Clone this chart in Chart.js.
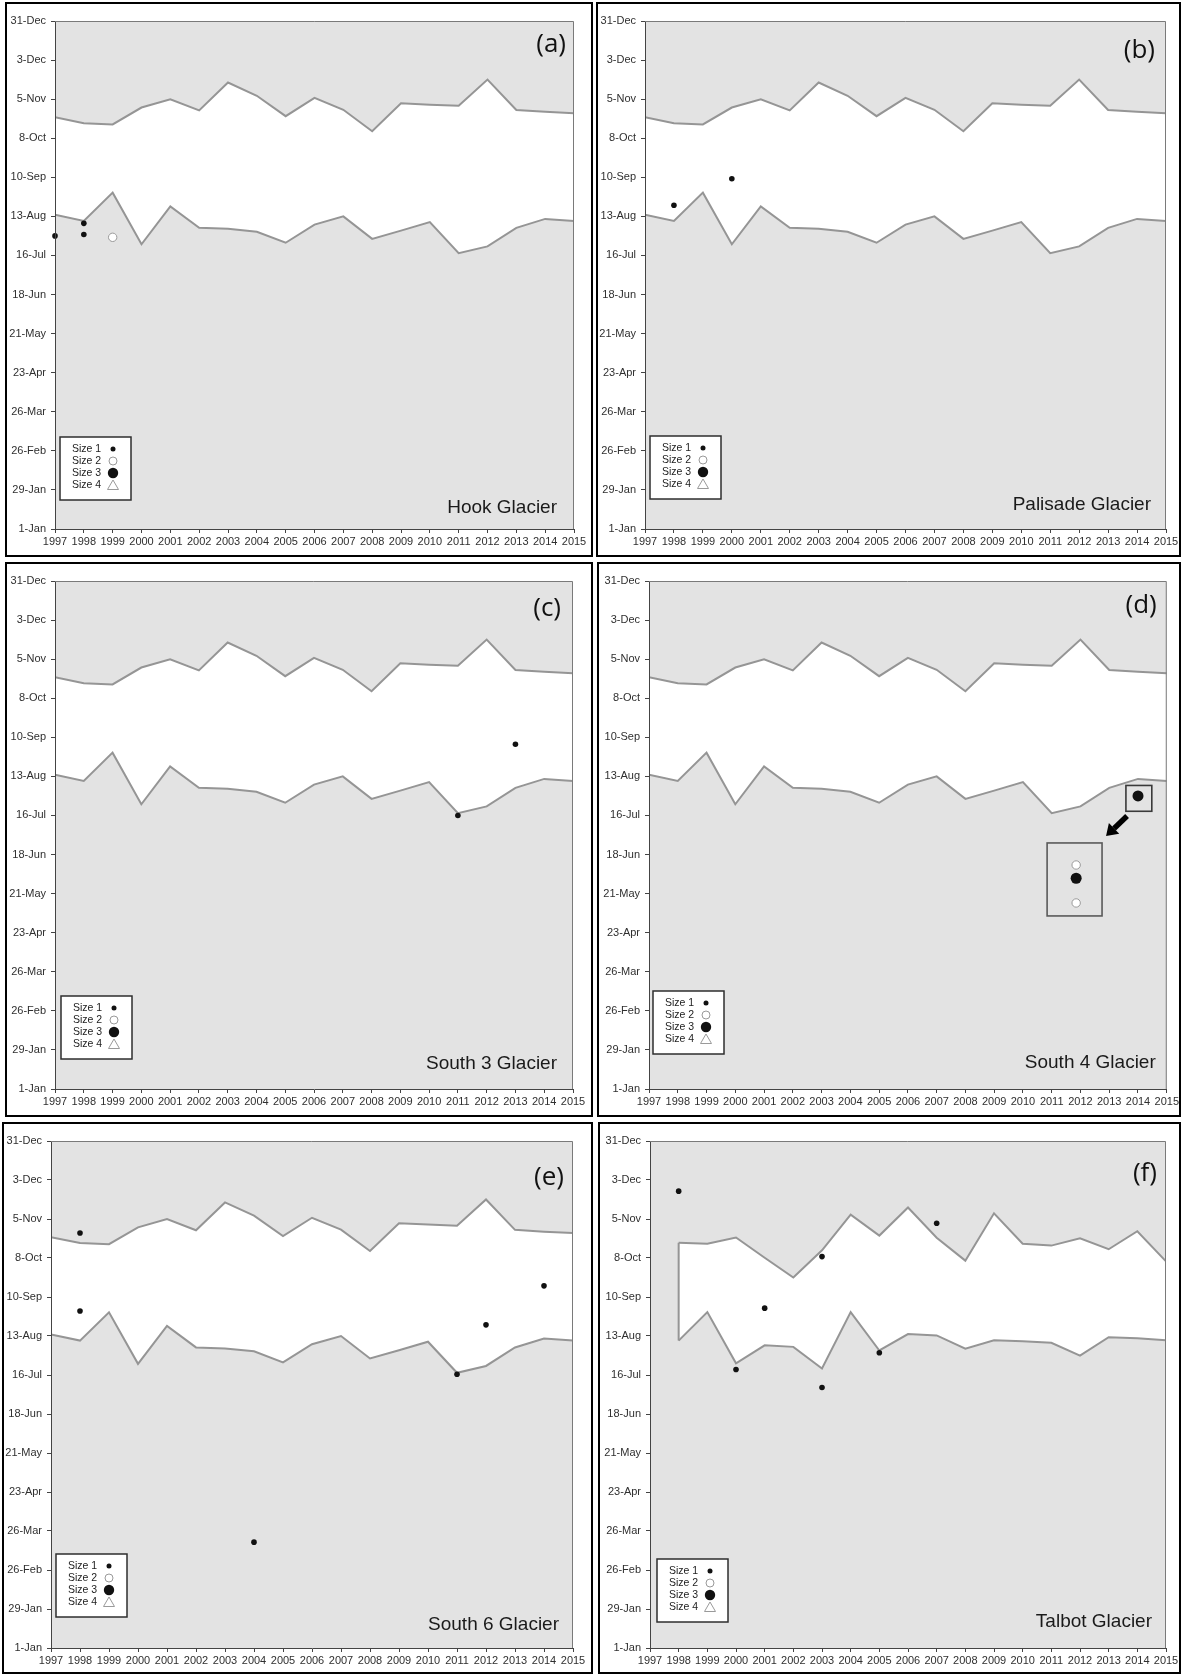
<!DOCTYPE html>
<html>
<head>
<meta charset="utf-8">
<script src="https://cdn.jsdelivr.net/npm/chart.js@4.4.1/dist/chart.umd.min.js"></script>
<style>
  html, body { margin: 0; padding: 0; background: #fff; }
  body { width: 1182px; height: 1675px; position: relative; overflow: hidden; }
  canvas.panel { position: absolute; }
  .frame { position: absolute; box-sizing: border-box; border: 2px solid #000; pointer-events: none; }
</style>
</head>
<body>
<script>
// ---- axis categories and tick labels ----
const years = [1997, 1998, 1999, 2000, 2001, 2002, 2003, 2004, 2005, 2006, 2007, 2008, 2009, 2010, 2011, 2012, 2013, 2014, 2015];
const yTickDays = [1, 29, 57, 85, 113, 141, 169, 197, 225, 253, 281, 309, 337, 365];
const yTickLabels = ['1-Jan', '29-Jan', '26-Feb', '26-Mar', '23-Apr', '21-May', '18-Jun', '16-Jul', '13-Aug', '10-Sep', '8-Oct', '5-Nov', '3-Dec', '31-Dec'];
const legendLabels = ['Size 1', 'Size 2', 'Size 3', 'Size 4'];

// ---- seasonal band (day of year) used by Hook, Palisade, South 3, South 4, South 6 ----
const bandTop    = [296.0, 291.7, 290.9, 303.0, 308.9, 300.9, 320.9, 311.4, 296.8, 309.9, 301.4, 286.0, 306.0, 305.0, 304.2, 323.0, 301.2, 299.9, 298.9];
const bandBottom = [226.1, 221.7, 242.0, 205.0, 232.2, 216.8, 216.1, 214.0, 206.1, 219.1, 225.0, 208.9, 214.8, 220.9, 198.6, 203.5, 216.8, 223.2, 221.7];

// ---- Talbot band (no 1997 value) ----
const talbotTop    = [null, 292.0, 291.2, 295.7, 281.2, 267.0, 286.5, 312.1, 297.1, 317.3, 295.5, 279.1, 313.1, 291.2, 289.9, 295.2, 287.3, 300.2, 278.6];
const talbotBottom = [null, 221.7, 242.2, 205.4, 218.3, 217.2, 201.7, 242.2, 214.6, 226.4, 225.4, 215.9, 222.0, 221.2, 220.1, 210.9, 224.1, 223.3, 222.0];

// ---- events: [year, day of year] ----
const hookSize1 = [[1997, 211], [1998, 220], [1998, 212]];
const hookSize2 = [[1999, 210]];
const palisadeSize1 = [[1998, 233], [2000, 252]];
const south3Size1 = [[2011, 197], [2013, 248]];
const south4Size2 = [[2014, 211], [2014, 211]];
const south4Size3 = [[2014, 211]];
const south6Size1 = [[1998, 299], [1998, 243], [2004, 77], [2011, 197.5], [2012, 233], [2014, 261]];
const talbotSize1 = [[1998, 329], [2000, 201], [2001, 245], [2003, 282], [2003, 188], [2005, 213], [2007, 306]];

// enlarged view of the 2014 South 4 cluster: [year position, day position]
const south4InsetSize2 = [[2011.85, 161.5], [2011.85, 134.3]];
const south4InsetSize3 = [[2011.85, 152.0]];

const toXY = arr => arr.map(([x, y]) => ({ x, y }));
const series = vals => years.map((yr, i) => ({ x: yr, y: vals[i] }));

const GREY_BG = '#e3e3e3';
const BAND_LINE = '#959595';
const TICK_FONT = { family: '"Liberation Sans", Arial, sans-serif', size: 11 };

const markStyles = {
  1: { pointRadius: 2.8, pointBackgroundColor: '#111', pointBorderColor: '#111', pointBorderWidth: 0, pointStyle: 'circle' },
  2: { pointRadius: 4.2, pointBackgroundColor: '#fff', pointBorderColor: '#9a9a9a', pointBorderWidth: 1, pointStyle: 'circle' },
  3: { pointRadius: 5.5, pointBackgroundColor: '#111', pointBorderColor: '#111', pointBorderWidth: 0, pointStyle: 'circle' },
  4: { pointRadius: 5, pointBackgroundColor: '#fff', pointBorderColor: '#9a9a9a', pointBorderWidth: 1, pointStyle: 'triangle' }
};

const panels = [
  { letter: '(a)', name: 'Hook Glacier', top: bandTop, bottom: bandBottom,
    marks: { 1: hookSize1, 2: hookSize2 },
    frame: [5, 2, 588, 555], plot: [55, 21, 574, 529],
    letterDx: 8, letterCy: 24, nameDx: 17, nameDy: 16, legendDx: 5, legendDy: 29 },
  { letter: '(b)', name: 'Palisade Glacier', top: bandTop, bottom: bandBottom,
    marks: { 1: palisadeSize1 },
    frame: [596, 2, 585, 555], plot: [645, 21, 1166, 529],
    letterDx: 11, letterCy: 30, nameDx: 15, nameDy: 19, legendDx: 5, legendDy: 30 },
  { letter: '(c)', name: 'South 3 Glacier', top: bandTop, bottom: bandBottom,
    marks: { 1: south3Size1 },
    frame: [5, 562, 588, 555], plot: [55, 581, 573, 1089],
    letterDx: 12, letterCy: 28, nameDx: 16, nameDy: 20, legendDx: 6, legendDy: 30 },
  { letter: '(d)', name: 'South 4 Glacier', top: bandTop, bottom: bandBottom,
    marks: { 2: south4Size2, 3: south4Size3 },
    inset: { size2: south4InsetSize2, size3: south4InsetSize3,
             smallBox: [2013.58, 218.5, 2014.48, 200.0], bigBox: [2010.84, 177.3, 2012.75, 125.0],
             arrow: [2013.62, 196.6, 2012.89, 182.3] },
    frame: [597, 562, 584, 555], plot: [649, 581, 1168, 1089],
    letterDx: 10, letterCy: 25, nameDx: 11, nameDy: 21, legendDx: 4, legendDy: 35 },
  { letter: '(e)', name: 'South 6 Glacier', top: bandTop, bottom: bandBottom,
    marks: { 1: south6Size1 },
    frame: [2, 1122, 591, 552], plot: [51, 1141, 573, 1648],
    letterDx: 9, letterCy: 37, nameDx: 14, nameDy: 18, legendDx: 5, legendDy: 31 },
  { letter: '(f)', name: 'Talbot Glacier', top: talbotTop, bottom: talbotBottom, startEdge: 1,
    marks: { 1: talbotSize1 },
    frame: [598, 1122, 583, 552], plot: [650, 1141, 1166, 1648],
    letterDx: 9, letterCy: 33, nameDx: 14, nameDy: 21, legendDx: 7, legendDy: 26 }
];

function drawLegendMark(ctx, size, x, y) {
  ctx.save();
  if (size === 1 || size === 3) {
    ctx.fillStyle = '#111';
    ctx.beginPath(); ctx.arc(x, y, size === 1 ? 2.5 : 5.2, 0, Math.PI * 2); ctx.fill();
  } else if (size === 2) {
    ctx.fillStyle = '#fff'; ctx.strokeStyle = '#9a9a9a'; ctx.lineWidth = 1;
    ctx.beginPath(); ctx.arc(x, y, 4, 0, Math.PI * 2); ctx.fill(); ctx.stroke();
  } else {
    ctx.fillStyle = '#fff'; ctx.strokeStyle = '#9a9a9a'; ctx.lineWidth = 1;
    ctx.beginPath(); ctx.moveTo(x, y - 5); ctx.lineTo(x + 5.5, y + 4.5); ctx.lineTo(x - 5.5, y + 4.5); ctx.closePath();
    ctx.fill(); ctx.stroke();
  }
  ctx.restore();
}

// grey plot background, frame, panel letter, glacier name, legend and inset callouts
const panelDecor = {
  id: 'panelDecor',
  beforeDraw(chart) {
    const { ctx, chartArea: a } = chart;
    ctx.save();
    ctx.fillStyle = GREY_BG;
    ctx.fillRect(a.left, a.top, a.right - a.left, a.bottom - a.top);
    ctx.restore();
  },
  afterDraw(chart, args, o) {
    const { ctx, chartArea: a, scales } = chart;
    const sx = scales.x, sy = scales.y;
    ctx.save();
    // top and right edges of the plot area
    ctx.strokeStyle = '#7a7a7a'; ctx.lineWidth = 1;
    ctx.beginPath();
    ctx.moveTo(a.left, a.top + 0.5); ctx.lineTo(a.right - 0.5, a.top + 0.5); ctx.lineTo(a.right - 0.5, a.bottom);
    ctx.stroke();

    // inset callout boxes and arrow
    if (o.inset) {
      const box = ([x0, y0, x1, y1]) => {
        const px0 = sx.getPixelForValue(x0), py0 = sy.getPixelForValue(y0);
        const px1 = sx.getPixelForValue(x1), py1 = sy.getPixelForValue(y1);
        ctx.strokeRect(px0, py0, px1 - px0, py1 - py0);
      };
      ctx.strokeStyle = '#3a3a3a'; ctx.lineWidth = 1.6;
      box(o.inset.smallBox);
      ctx.strokeStyle = '#5a5a5a';
      box(o.inset.bigBox);
      const [ax0, ay0, ax1, ay1] = o.inset.arrow;
      const p0 = [sx.getPixelForValue(ax0), sy.getPixelForValue(ay0)];
      const p1 = [sx.getPixelForValue(ax1), sy.getPixelForValue(ay1)];
      const ang = Math.atan2(p1[1] - p0[1], p1[0] - p0[0]);
      const headLen = 11, headHalf = 7.5;
      const bx = p1[0] - Math.cos(ang) * headLen, by = p1[1] - Math.sin(ang) * headLen;
      ctx.strokeStyle = '#000'; ctx.lineWidth = 5.5; ctx.lineCap = 'butt';
      ctx.beginPath(); ctx.moveTo(p0[0], p0[1]); ctx.lineTo(bx, by); ctx.stroke();
      ctx.fillStyle = '#000';
      ctx.beginPath();
      ctx.moveTo(p1[0], p1[1]);
      ctx.lineTo(bx + Math.sin(ang) * headHalf, by - Math.cos(ang) * headHalf);
      ctx.lineTo(bx - Math.sin(ang) * headHalf, by + Math.cos(ang) * headHalf);
      ctx.closePath(); ctx.fill();
    }

    // panel letter
    ctx.fillStyle = '#111';
    ctx.font = '26px "Open Sans", "Noto Sans", sans-serif';
    ctx.textAlign = 'right'; ctx.textBaseline = 'middle';
    ctx.fillText(o.letter, a.right - o.letterDx, a.top + o.letterCy);

    // glacier name
    ctx.font = '19px "Liberation Sans", Arial, sans-serif';
    ctx.textBaseline = 'alphabetic';
    ctx.fillStyle = '#1a1a1a';
    ctx.fillText(o.name, a.right - o.nameDx, a.bottom - o.nameDy);

    // legend box
    const lw = 71, lh = 63;
    const lx = a.left + o.legendDx, ly = a.bottom - o.legendDy - lh;
    ctx.fillStyle = '#fff';
    ctx.fillRect(lx, ly, lw, lh);
    ctx.strokeStyle = '#2e2e2e'; ctx.lineWidth = 1.5;
    ctx.strokeRect(lx, ly, lw, lh);
    ctx.font = '10.5px "Liberation Sans", Arial, sans-serif';
    ctx.textAlign = 'left'; ctx.textBaseline = 'middle';
    legendLabels.forEach((lab, i) => {
      const yy = ly + 12 + i * 12;
      ctx.fillStyle = '#222';
      ctx.fillText(lab, lx + 12, yy);
      drawLegendMark(ctx, i + 1, lx + 53, yy);
    });
    ctx.restore();
  }
};

function buildPanel(p) {
  const [fx, fy, fw, fh] = p.frame;
  const [px0, py0, px1, py1] = p.plot;

  const canvas = document.createElement('canvas');
  canvas.className = 'panel';
  canvas.width = fw; canvas.height = fh;
  canvas.style.left = fx + 'px'; canvas.style.top = fy + 'px';
  canvas.style.width = fw + 'px'; canvas.style.height = fh + 'px';
  document.body.appendChild(canvas);

  const frame = document.createElement('div');
  frame.className = 'frame';
  Object.assign(frame.style, { left: fx + 'px', top: fy + 'px', width: fw + 'px', height: fh + 'px' });
  document.body.appendChild(frame);

  const datasets = [];
  // band lines; area between them is left white
  datasets.push({ data: series(p.top), showLine: true, borderColor: BAND_LINE, borderWidth: 2, pointRadius: 0,
                  fill: '+1', backgroundColor: '#ffffff', order: 10, spanGaps: false });
  datasets.push({ data: series(p.bottom), showLine: true, borderColor: BAND_LINE, borderWidth: 2, pointRadius: 0,
                  fill: false, order: 10, spanGaps: false });
  if (p.startEdge !== undefined) {
    const i = p.startEdge;
    datasets.push({ data: [{ x: years[i], y: p.top[i] }, { x: years[i], y: p.bottom[i] }], showLine: true,
                    borderColor: BAND_LINE, borderWidth: 2, pointRadius: 0, fill: false, order: 10 });
  }
  // events by size (larger sizes drawn above smaller open circles)
  const sizeOrder = { 1: 0, 2: 3, 3: 2, 4: 1 };
  Object.keys(p.marks).forEach(k => {
    datasets.push(Object.assign({ data: toXY(p.marks[k]), showLine: false, clip: false, order: sizeOrder[k] },
                                markStyles[k]));
  });
  if (p.inset) {
    datasets.push(Object.assign({ data: toXY(p.inset.size2), showLine: false, clip: false, order: 3 }, markStyles[2]));
    datasets.push(Object.assign({ data: toXY(p.inset.size3), showLine: false, clip: false, order: 2 }, markStyles[3]));
  }

  new Chart(canvas, {
    type: 'line',
    data: { datasets },
    plugins: [panelDecor],
    options: {
      responsive: false,
      animation: false,
      devicePixelRatio: 1,
      events: [],
      layout: {
        autoPadding: false,
        padding: { left: 0, top: py0 - fy, right: fx + fw - px1, bottom: 0 }
      },
      plugins: {
        legend: { display: false },
        tooltip: { enabled: false },
        filler: { drawTime: 'beforeDatasetsDraw' },
        panelDecor: { letter: p.letter, name: p.name, inset: p.inset,
                      letterDx: p.letterDx, letterCy: p.letterCy, nameDx: p.nameDx, nameDy: p.nameDy,
                      legendDx: p.legendDx, legendDy: p.legendDy }
      },
      scales: {
        x: {
          type: 'linear', min: years[0], max: years[years.length - 1],
          afterBuildTicks: s => { s.ticks = years.map(v => ({ value: v })); },
          afterFit: s => { s.height = fy + fh - py1; },
          ticks: { autoSkip: false, maxRotation: 0, minRotation: 0, padding: 2, color: '#2f2f2f', font: TICK_FONT,
                   callback: v => String(v) },
          grid: { drawOnChartArea: false, drawTicks: true, tickLength: 4, color: '#444', lineWidth: 1 },
          border: { display: true, color: '#444', width: 1, z: 1 }
        },
        y: {
          type: 'linear', min: yTickDays[0], max: yTickDays[yTickDays.length - 1],
          afterBuildTicks: s => { s.ticks = yTickDays.map(v => ({ value: v })); },
          afterFit: s => { s.width = px0 - fx; },
          ticks: { autoSkip: false, padding: 5, color: '#2f2f2f', font: TICK_FONT,
                   callback: v => yTickLabels[yTickDays.indexOf(v)] },
          grid: { drawOnChartArea: false, drawTicks: true, tickLength: 4, color: '#444', lineWidth: 1 },
          border: { display: true, color: '#444', width: 1, z: 1 }
        }
      }
    }
  });
}

panels.forEach(buildPanel);
</script>
</body>
</html>
